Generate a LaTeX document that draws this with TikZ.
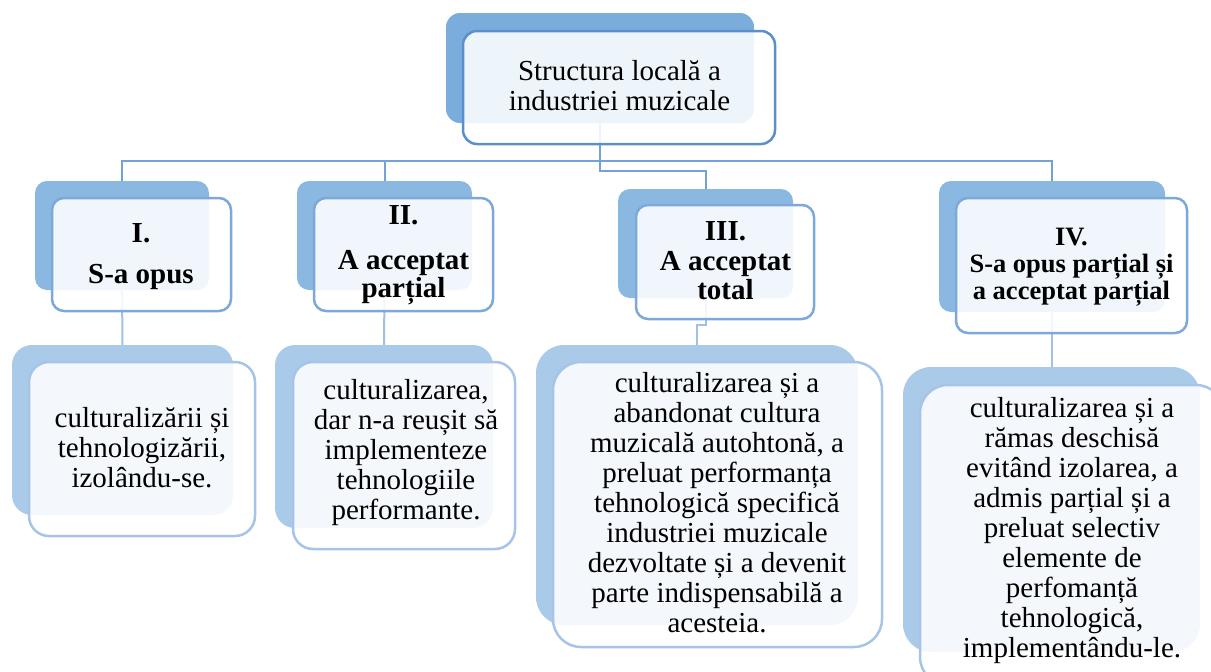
\documentclass[tikz,border=0pt]{standalone}
\usepackage{fontspec}
\setmainfont{Liberation Serif}
\definecolor{backA}{HTML}{7AADDB}
\definecolor{backB}{HTML}{8AB8E1}
\definecolor{backC}{HTML}{AACAE9}
\definecolor{edgeA}{HTML}{5B8FC9}
\definecolor{edgeB}{HTML}{7DA9DA}
\definecolor{edgeC}{HTML}{A6C4E7}
\definecolor{connA}{HTML}{72A2D7}
\definecolor{connC}{HTML}{A0C0E6}
\tikzset{
  box/.style={rectangle, inner sep=0pt, outer sep=0pt, anchor=north west},
  backbox/.style={box, fill=#1, draw=none},
  frontbox/.style={box, draw=#1, line width=2.5pt, fill=white, fill opacity=0.88},
  conn/.style={draw=#1, line width=2pt},
  txt/.style={align=center, inner sep=0pt, text=black, font=\fontsize{29}{30}\selectfont},
  btxt/.style={align=center, inner sep=0pt, text=black, font=\fontsize{29}{#1}\selectfont\bfseries},
}
\begin{document}
\begin{tikzpicture}[x=1pt, y=-1pt]
\useasboundingbox (0,0) rectangle (1211,672);
\clip (0,0) rectangle (1211,672);
% back boxes
\node[backbox=backA, rounded corners=14pt, minimum width=308pt, minimum height=110pt] (tback) at (446,13) {};
\node[backbox=backB, rounded corners=12pt, minimum width=174pt, minimum height=109pt] (b1back) at (35,181) {};
\node[backbox=backB, rounded corners=12pt, minimum width=175pt, minimum height=109pt] (b2back) at (297,181) {};
\node[backbox=backB, rounded corners=12pt, minimum width=175pt, minimum height=109pt] (b3back) at (618,189) {};
\node[backbox=backB, rounded corners=12pt, minimum width=226pt, minimum height=131pt] (b4back) at (939,181) {};
\node[backbox=backC, rounded corners=20pt, minimum width=221pt, minimum height=170pt] (d1back) at (12,345) {};
\node[backbox=backC, rounded corners=20pt, minimum width=218pt, minimum height=183pt] (d2back) at (275,345) {};
\node[backbox=backC, rounded corners=28pt, minimum width=322pt, minimum height=280pt] (d3back) at (536,345) {};
\node[backbox=backC, rounded corners=28pt, minimum width=297pt, minimum height=285pt] (d4back) at (903,367) {};
% connectors
\coordinate (hub) at (600,161);
\draw[conn=connA] (tback.south) -- ++(0,48) -| (b3back.north);
\draw[conn=connA] (b1back.north) |- (hub) -| (b4back.north);
\draw[conn=connA] (b2back.north) -- (b2back.north |- hub);
\draw[conn=connC] (b1back.south) -- (d1back.north);
\draw[conn=connC] (b2back.south) -- (d2back.north);
\draw[conn=connC] (b3back.south) -- ++(0,27) -| (d3back.north);
\draw[conn=connC] (b4back.south) -- (b4back.south |- d4back.north);
% front boxes
\node[frontbox=edgeA, rounded corners=14pt, minimum width=312pt, minimum height=113pt] (tfront) at (463,31) {};
\node[frontbox=edgeB, rounded corners=12pt, minimum width=179pt, minimum height=113pt] (b1front) at (52,198) {};
\node[frontbox=edgeB, rounded corners=12pt, minimum width=179pt, minimum height=113pt] (b2front) at (314,198) {};
\node[frontbox=edgeB, rounded corners=12pt, minimum width=178pt, minimum height=114pt] (b3front) at (636,205) {};
\node[frontbox=edgeB, rounded corners=12pt, minimum width=231pt, minimum height=135pt] (b4front) at (956,198) {};
\node[frontbox=edgeC, rounded corners=20pt, minimum width=226pt, minimum height=174pt] (d1front) at (29,362) {};
\node[frontbox=edgeC, rounded corners=20pt, minimum width=222pt, minimum height=187pt] (d2front) at (293,362) {};
\node[frontbox=edgeC, rounded corners=28pt, minimum width=329pt, minimum height=285pt] (d3front) at (553,362) {};
\node[frontbox=edgeC, rounded corners=28pt, minimum width=304pt, minimum height=300pt] (d4front) at (920,385) {};
% texts
\node[txt] (ttext) at (619.5,85.5) {Structura locală a\\industriei muzicale};
\node[btxt=30] (b1text) at (141,257) {I.\\[11pt]S-a opus};
\node[btxt=28] (b2text) at (403.5,255) {II.\\[17pt]A acceptat\\parțial};
\node[btxt=29.5] (b3text) at (725.5,261) {III.\\A acceptat\\total};
\node[align=center, inner sep=0pt, font=\fontsize{26.5}{27}\selectfont\bfseries] (b4text) at (1071.5,267) {IV.\\S-a opus parțial și\\a acceptat parțial};
\node[txt] (d1text) at (142,447.5) {culturalizării și\\tehnologizării,\\izolându-se.};
\node[txt] (d2text) at (406,452.5) {culturalizarea,\\dar n-a reușit să\\implementeze\\tehnologiile\\performante.};
\node[txt] (d3text) at (717,502.5) {culturalizarea și a\\abandonat cultura\\muzicală autohtonă, a\\preluat performanța\\tehnologică specifică\\industriei muzicale\\dezvoltate și a devenit\\parte indispensabilă a\\acesteia.};
\node[txt] (d4text) at (1072,530.5) {culturalizarea și a\\rămas deschisă\\evitând izolarea, a\\admis parțial și a\\preluat selectiv\\elemente de\\perfomanță\\tehnologică,\\implementându-le.};
\end{tikzpicture}
\end{document}
